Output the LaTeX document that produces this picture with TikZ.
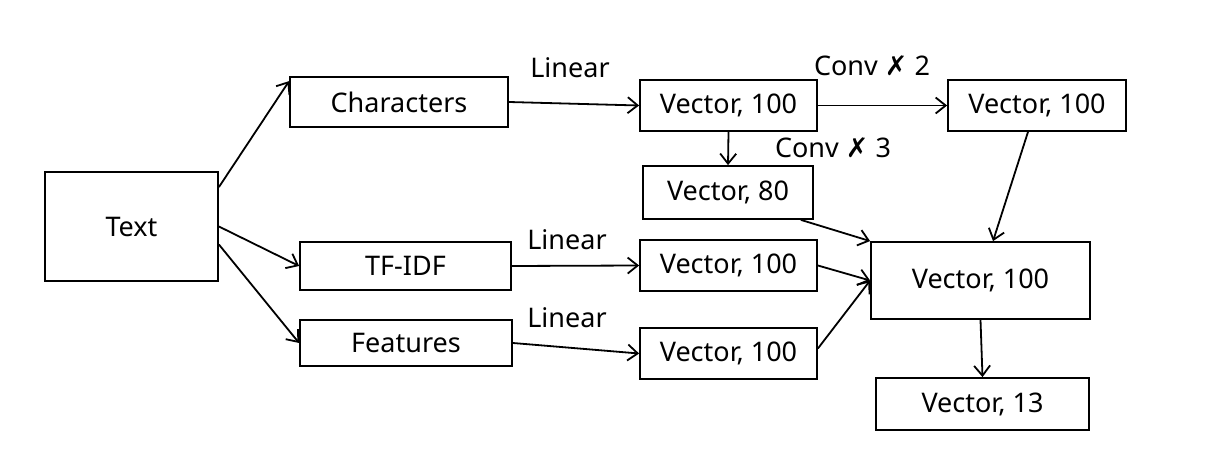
\documentclass[tikz,border=0pt]{standalone}
\usepackage{fontspec}
\setmainfont{Noto Sans}
\newfontfamily\symfont{DejaVu Sans}
\usetikzlibrary{arrows.meta,calc}
\begin{document}
\begin{tikzpicture}[x=1pt,y=-1pt,
  box/.style={draw,line width=1.8pt,inner sep=0pt,anchor=center,font=\fontsize{27}{32}\selectfont},
  conn/.style={line width=1.8pt,-{Straight Barb[length=10pt,width=16pt,line width=1.8pt]}},
  lbl/.style={font=\fontsize{27}{32}\selectfont,inner sep=0pt,anchor=center}]
\useasboundingbox (0,0) rectangle (1225,470);
\node[box,minimum width=173pt,minimum height=109pt] (text) at (131.5,226.5) {Text};
\node[box,minimum width=218pt,minimum height=50pt] (chars) at (399,102) {Characters};
\node[box,minimum width=211pt,minimum height=48pt] (tfidf) at (405.5,266) {TF-IDF};
\node[box,minimum width=212pt,minimum height=46pt] (feat) at (406,343) {Features};
\node[box,minimum width=177pt,minimum height=51pt] (v1) at (728.5,105.5) {Vector, 100};
\node[box,minimum width=178pt,minimum height=51pt] (v2) at (1037,105.5) {Vector, 100};
\node[box,minimum width=170pt,minimum height=53pt] (v80) at (728,192.5) {Vector, 80};
\node[box,minimum width=177pt,minimum height=51pt] (vmid) at (728.5,265.5) {Vector, 100};
\node[box,minimum width=177pt,minimum height=51pt] (vbot) at (728.5,353.5) {Vector, 100};
\node[box,minimum width=219pt,minimum height=77pt] (big) at (980.5,280.5) {Vector, 100};
\node[box,minimum width=213pt,minimum height=52pt] (v13) at (982.5,404) {Vector, 13};

\node[lbl] (l1) at (570,68) {Linear};
\node[lbl] (l2) at (567,240) {Linear};
\node[lbl] (l3) at (567,318) {Linear};
\node[lbl] (c2) at (872,66) {Conv {\symfont\char"2717} 2};
\node[lbl] (c3) at (833,148) {Conv {\symfont\char"2717} 3};

\draw[conn] ($(text.north east)+(0,16)$) -- ($(chars.north west)+(0,5)$);
\draw[conn] (text.east) -- (tfidf.west);
\draw[conn] ($(text.east)+(0,18)$) -- (feat.west);
\draw[conn] (chars.east) -- (v1.west);
\draw[conn] (v1.east) -- (v2.west);
\draw[conn] (v1.south) -- (v80.north);
\draw[conn] (tfidf.east) -- (vmid.west);
\draw[conn] (feat.east) -- (vbot.west);
\draw[conn] ($(v80.south east)+(-13,0)$) -- (big.north west);
\draw[conn] (vmid.east) -- (big.west);
\draw[conn] ($(vbot.east)+(0,-5)$) -- (big.west);
\draw[conn] ($(v2.south)+(-9,0)$) -- ($(big.north)+(12.5,0)$);
\draw[conn] (big.south) -- (v13.north);
\end{tikzpicture}
\end{document}
